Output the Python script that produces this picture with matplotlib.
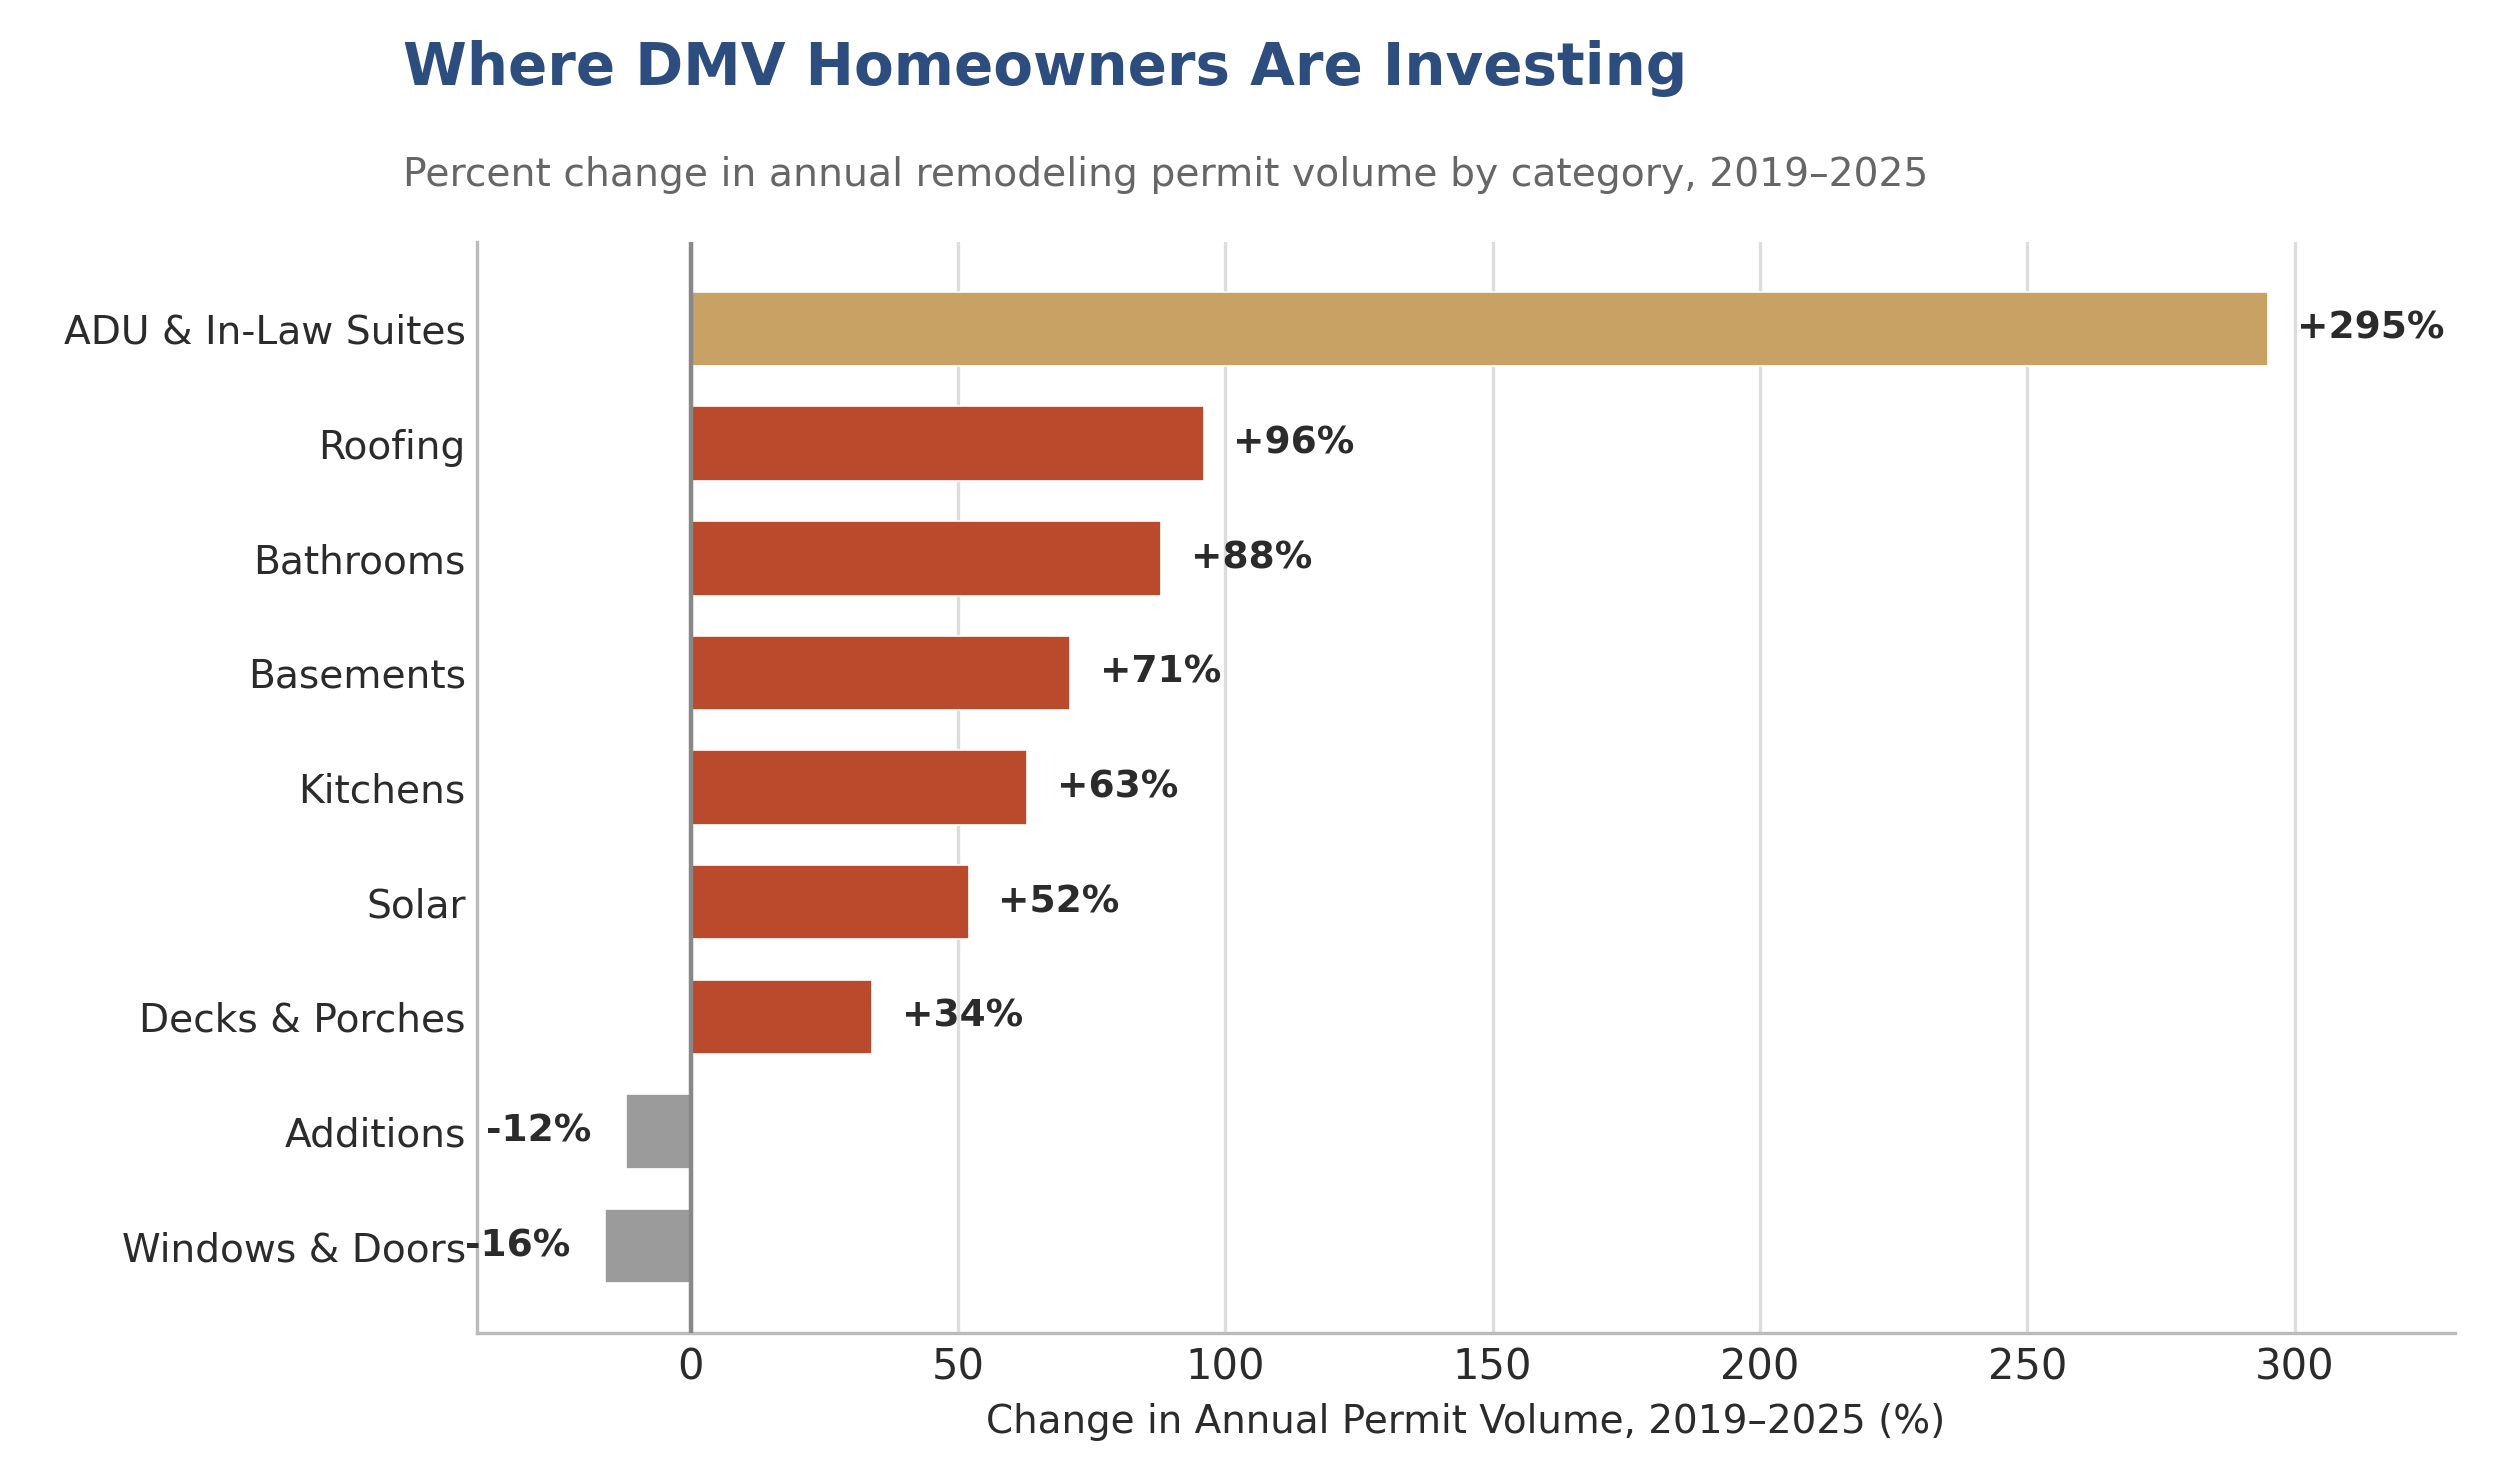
import matplotlib.pyplot as plt
import seaborn as sns

categories = [
    "ADU & In-Law Suites",
    "Roofing",
    "Bathrooms",
    "Basements",
    "Kitchens",
    "Solar",
    "Decks & Porches",
    "Additions",
    "Windows & Doors",
]
pct_change = [295, 96, 88, 71, 63, 52, 34, -12, -16]
x_ticks = [0, 50, 100, 150, 200, 250, 300]

HIGHLIGHT = "#C8A164"
POSITIVE = "#B94A2C"
NEGATIVE = "#9B9B9B"

sns.set_style("whitegrid")
plt.rcParams["font.family"] = ["DejaVu Sans"]

fig = plt.figure(figsize=(12.5, 7.335), dpi=200)
ax = fig.add_axes((0.1907, 0.0913, 0.7913, 0.7437))

colors = []
for i, v in enumerate(pct_change):
    if i == 0:
        colors.append(HIGHLIGHT)
    elif v >= 0:
        colors.append(POSITIVE)
    else:
        colors.append(NEGATIVE)

y_pos = list(range(len(categories)))
ax.barh(y_pos, pct_change, height=0.65, color=colors, edgecolor="white", linewidth=0.6, zorder=3)
ax.set_yticks(y_pos)
ax.set_yticklabels(categories, fontsize=14.1, color="#2b2b2b")
ax.invert_yaxis()

# value labels
for y, v in zip(y_pos, pct_change):
    if v >= 0:
        ax.text(v + 5.5, y, f"+{v}%", va="center", ha="left", fontsize=13.5,
                fontweight="bold", color="#2b2b2b", zorder=4)
    else:
        ax.text(v - 6.5, y, f"{v}%", va="center", ha="right", fontsize=13.5,
                fontweight="bold", color="#2b2b2b", zorder=4)

ax.axvline(0, color="#888888", linewidth=1.6, zorder=4)

ax.set_xlim(-40, 330)
ax.set_xticks(x_ticks)
ax.tick_params(axis="x", labelsize=15, colors="#2b2b2b", length=0, pad=5)
ax.tick_params(axis="y", length=0, pad=4)
ax.set_xlabel("Change in Annual Permit Volume, 2019\u20132025 (%)", fontsize=14,
              color="#2b2b2b", labelpad=5)

ax.grid(axis="x", color="#dddddd", linewidth=1.2, zorder=0)
ax.grid(axis="y", visible=False)
for side in ("top", "right"):
    ax.spines[side].set_visible(False)
for side in ("left", "bottom"):
    ax.spines[side].set_color("#bbbbbb")
    ax.spines[side].set_linewidth(1.2)

fig.text(0.1614, 0.953, "Where DMV Homeowners Are Investing", fontsize=20.85,
         fontweight="bold", color="#2C4D7E", ha="left", va="center")
fig.text(0.1614, 0.881, "Percent change in annual remodeling permit volume by category, 2019\u20132025",
         fontsize=14.15, color="#666666", ha="left", va="center")

fig.savefig("out.png", dpi=200)
